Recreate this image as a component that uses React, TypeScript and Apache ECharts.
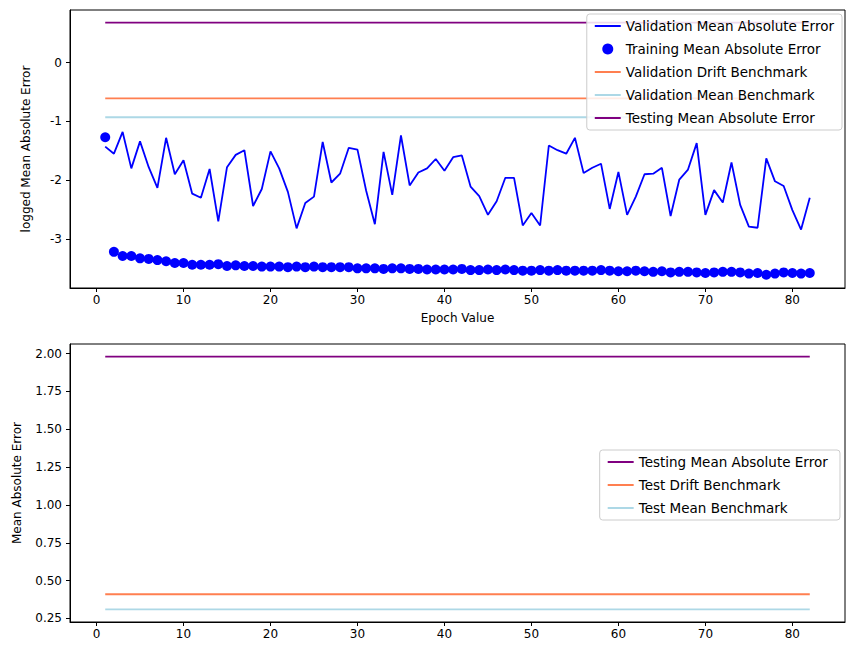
import React, { useEffect, useRef } from "react";
import * as echarts from "echarts";

const epochs = Array.from({ length: 82 }, (_, i) => i + 1);
const validationLog = [-1.43,-1.55,-1.18,-1.80,-1.34,-1.78,-2.13,-1.28,-1.90,-1.66,-2.23,-2.30,-1.81,-2.70,-1.78,-1.57,-1.49,-2.44,-2.15,-1.51,-1.80,-2.20,-2.82,-2.39,-2.28,-1.35,-2.04,-1.89,-1.45,-1.48,-2.18,-2.75,-1.52,-2.25,-1.24,-2.09,-1.87,-1.80,-1.64,-1.84,-1.61,-1.58,-2.11,-2.27,-2.59,-2.36,-1.96,-1.96,-2.77,-2.56,-2.77,-1.41,-1.49,-1.55,-1.28,-1.88,-1.79,-1.72,-2.49,-1.86,-2.59,-2.28,-1.90,-1.89,-1.79,-2.61,-1.99,-1.82,-1.37,-2.59,-2.17,-2.38,-1.70,-2.42,-2.79,-2.81,-1.63,-2.02,-2.10,-2.51,-2.84,-2.30];
const trainingLog = [-1.27,-3.22,-3.29,-3.29,-3.33,-3.34,-3.36,-3.38,-3.41,-3.41,-3.44,-3.44,-3.44,-3.43,-3.46,-3.45,-3.46,-3.46,-3.47,-3.47,-3.47,-3.48,-3.47,-3.48,-3.47,-3.48,-3.48,-3.48,-3.48,-3.50,-3.50,-3.50,-3.51,-3.50,-3.50,-3.51,-3.51,-3.52,-3.52,-3.52,-3.52,-3.51,-3.53,-3.53,-3.52,-3.53,-3.52,-3.53,-3.54,-3.54,-3.53,-3.54,-3.53,-3.54,-3.54,-3.54,-3.54,-3.53,-3.54,-3.55,-3.55,-3.54,-3.55,-3.56,-3.55,-3.57,-3.56,-3.56,-3.57,-3.58,-3.57,-3.56,-3.56,-3.57,-3.59,-3.58,-3.61,-3.59,-3.57,-3.58,-3.59,-3.58];
const testingLog = 0.68;
const valDriftLog = -0.61;
const valMeanLog = -0.93;
const testingMAE = 1.98;
const testDrift = 0.41;
const testMean = 0.31;
const xTicks = [0,10,20,30,40,50,60,70,80];
const yTicksTop = [-3,-2,-1,0];
const yTicksBottom = [0.25,0.5,0.75,1.0,1.25,1.5,1.75,2.0];

const flat = (v: number) => [[1, v], [82, v]];
const lineIcon = "path://M0,0h20v1.5h-20z";

export default function App() {
  const ref = useRef<HTMLDivElement>(null);
  useEffect(() => {
    const chart = echarts.init(ref.current!, null, { renderer: "svg" });
    const font = "DejaVu Sans";
    const axisCommon = {
      axisLine: { onZero: false, lineStyle: { color: "#000" } },
      axisTick: { show: true, length: 4, lineStyle: { color: "#000" } },
      axisLabel: { color: "#000", fontSize: 12, fontFamily: font },
      splitLine: { show: false },
    };
    const xAxis = (gi: number, name: string) => ({
      type: "value", gridIndex: gi, min: -3.05, max: 86.05, ...axisCommon,
      axisTick: { ...axisCommon.axisTick, customValues: xTicks },
      axisLabel: { ...axisCommon.axisLabel, customValues: xTicks, margin: 6 },
      name, nameLocation: "middle", nameGap: 24,
      nameTextStyle: { color: "#000", fontSize: 12, fontFamily: font },
    });
    const legendCommon = {
      orient: "vertical", itemWidth: 26, itemHeight: 11, itemGap: 9,
      backgroundColor: "rgba(255,255,255,0.85)", borderColor: "#ccc", borderWidth: 1, borderRadius: 3, padding: [5, 8],
      textStyle: { fontSize: 13.5, color: "#000", fontFamily: font },
    };
    chart.setOption({
      animation: false,
      textStyle: { fontFamily: font },
      grid: [
        { left: 70, top: 10, width: 775, height: 278, show: true, borderColor: "#000", borderWidth: 1 },
        { left: 70, top: 344, width: 775, height: 278, show: true, borderColor: "#000", borderWidth: 1 },
      ],
      xAxis: [xAxis(0, "Epoch Value"), xAxis(1, "")],
      yAxis: [
        { type: "value", gridIndex: 0, min: -3.835, max: 0.895, ...axisCommon,
          axisTick: { ...axisCommon.axisTick, customValues: yTicksTop },
          axisLabel: { ...axisCommon.axisLabel, customValues: yTicksTop },
          name: "logged Mean Absolute Error", nameLocation: "middle", nameGap: 38,
          nameTextStyle: { color: "#000", fontSize: 12, fontFamily: font } },
        { type: "value", gridIndex: 1, min: 0.2265, max: 2.0635, ...axisCommon,
          axisTick: { ...axisCommon.axisTick, customValues: yTicksBottom },
          axisLabel: { ...axisCommon.axisLabel, customValues: yTicksBottom, formatter: (v: number) => v.toFixed(2) },
          name: "Mean Absolute Error", nameLocation: "middle", nameGap: 47,
          nameTextStyle: { color: "#000", fontSize: 12, fontFamily: font } },
      ],
      legend: [
        { ...legendCommon, right: 13, top: 14,
          data: [
            { name: "Validation Mean Absolute Error", icon: lineIcon },
            { name: "Training Mean Absolute Error", icon: "circle" },
            { name: "Validation Drift Benchmark", icon: lineIcon },
            { name: "Validation Mean Benchmark", icon: lineIcon },
            { name: "Testing Mean Absolute Error", icon: lineIcon },
          ] },
        { ...legendCommon, right: 15, top: 450,
          data: [
            { name: "Testing Mean Absolute Error ", icon: lineIcon },
            { name: "Test Drift Benchmark", icon: lineIcon },
            { name: "Test Mean Benchmark", icon: lineIcon },
          ] },
      ],
      series: [
        { name: "Validation Mean Absolute Error", type: "line", xAxisIndex: 0, yAxisIndex: 0, symbol: "none",
          lineStyle: { color: "blue", width: 1.8 }, itemStyle: { color: "blue" },
          data: epochs.map((e, i) => [e, validationLog[i]]) },
        { name: "Training Mean Absolute Error", type: "scatter", xAxisIndex: 0, yAxisIndex: 0, symbolSize: 10,
          itemStyle: { color: "blue", opacity: 1 }, data: epochs.map((e, i) => [e, trainingLog[i]]) },
        { name: "Validation Drift Benchmark", type: "line", symbol: "none", xAxisIndex: 0, yAxisIndex: 0,
          lineStyle: { color: "coral", width: 1.8 }, itemStyle: { color: "coral" }, data: flat(valDriftLog) },
        { name: "Validation Mean Benchmark", type: "line", symbol: "none", xAxisIndex: 0, yAxisIndex: 0,
          lineStyle: { color: "lightblue", width: 1.8 }, itemStyle: { color: "lightblue" }, data: flat(valMeanLog) },
        { name: "Testing Mean Absolute Error", type: "line", symbol: "none", xAxisIndex: 0, yAxisIndex: 0,
          lineStyle: { color: "purple", width: 1.8 }, itemStyle: { color: "purple" }, data: flat(testingLog) },
        { name: "Testing Mean Absolute Error ", type: "line", symbol: "none", xAxisIndex: 1, yAxisIndex: 1,
          lineStyle: { color: "purple", width: 1.8 }, itemStyle: { color: "purple" }, data: flat(testingMAE) },
        { name: "Test Drift Benchmark", type: "line", symbol: "none", xAxisIndex: 1, yAxisIndex: 1,
          lineStyle: { color: "coral", width: 1.8 }, itemStyle: { color: "coral" }, data: flat(testDrift) },
        { name: "Test Mean Benchmark", type: "line", symbol: "none", xAxisIndex: 1, yAxisIndex: 1,
          lineStyle: { color: "lightblue", width: 1.8 }, itemStyle: { color: "lightblue" }, data: flat(testMean) },
      ],
    });
    return () => chart.dispose();
  }, []);
  return <div ref={ref} style={{ width: 855, height: 659, position: "absolute", left: 0, top: 0 }} />;
}
